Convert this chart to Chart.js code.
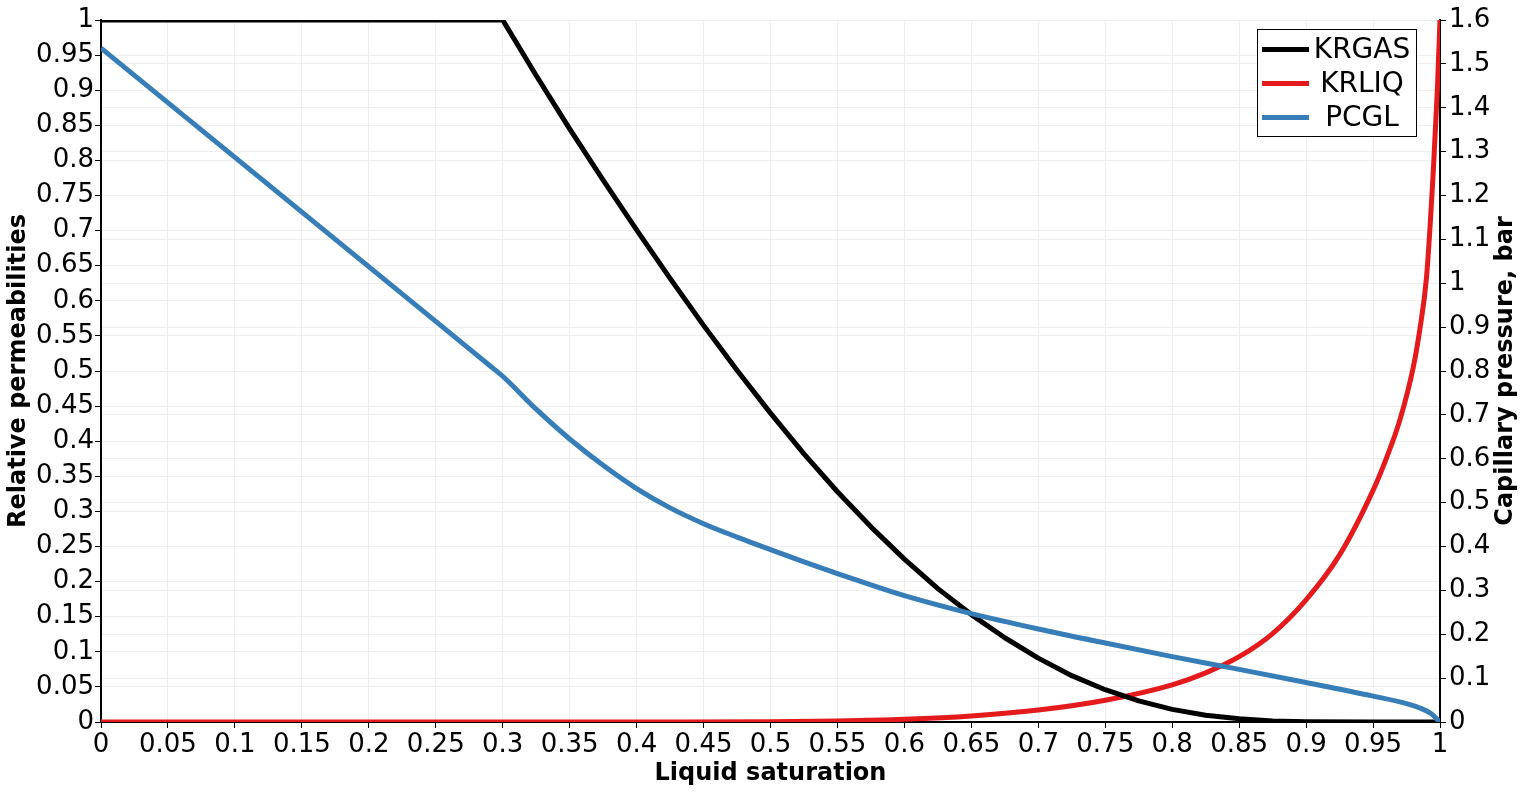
<!DOCTYPE html>
<html>
<head>
<meta charset="utf-8">
<script src="https://cdn.jsdelivr.net/npm/chart.js@4.4.1/dist/chart.umd.min.js"></script>
<style>
  html, body { margin: 0; padding: 0; background: #ffffff; }
  #wrap { width: 1526px; height: 796px; }
</style>
</head>
<body>
<div id="wrap"><canvas id="c" width="1526" height="796"></canvas></div>
<script>
// ---------------- data ----------------
const seriesNames = ['KRGAS', 'KRLIQ', 'PCGL'];
const seriesColors = ['#000000', '#e41a1c', '#377eb8'];

// KRGAS (left axis)
const krgasSat = [0, 0.1, 0.2, 0.3, 0.325, 0.35, 0.375, 0.4, 0.425, 0.45, 0.475, 0.5,
                  0.525, 0.55, 0.575, 0.6, 0.625, 0.65, 0.675, 0.7, 0.725, 0.75, 0.775, 0.8, 0.825,
                  0.85, 0.875, 0.9, 0.95, 1.0];
const krgasVal = [1, 1, 1, 1, 0.921, 0.845, 0.772, 0.701, 0.632, 0.565, 0.501, 0.440,
                  0.382, 0.328, 0.278, 0.232, 0.190, 0.153, 0.120, 0.091, 0.066, 0.046, 0.030, 0.018, 0.0095,
                  0.0045, 0.0015, 0.0003, 0, 0];

// KRLIQ (left axis)
const krliqSat = [0, 0.1, 0.2, 0.3, 0.4, 0.5, 0.55, 0.6, 0.65, 0.7, 0.75, 0.8, 0.825, 0.85,
                  0.875, 0.9, 0.925, 0.95, 0.96, 0.97, 0.98, 0.985, 0.99, 0.995, 0.998, 1.0];
const krliqVal = [0, 0, 0, 0, 0.0001, 0.0005, 0.0015, 0.0038, 0.0085, 0.017, 0.031, 0.053, 0.070, 0.093,
                  0.126, 0.174, 0.238, 0.330, 0.376, 0.430, 0.505, 0.560, 0.635, 0.785, 0.900, 1.0];

// PCGL (right axis, bar)
const pcglSat = [0, 0.25, 0.29, 0.3, 0.325, 0.35, 0.375, 0.4, 0.425, 0.45, 0.475, 0.5, 0.525, 0.55, 0.575, 0.6, 0.65, 0.7,
                 0.75, 0.8, 0.85, 0.9, 0.95, 0.975, 0.985, 0.993, 1.0];
const pcglVal = [1.536, 0.913, 0.813, 0.788, 0.713, 0.645, 0.585, 0.532, 0.488, 0.452, 0.4215, 0.393, 0.365, 0.338, 0.3125, 0.288, 0.247, 0.212,
                 0.180, 0.149, 0.120, 0.090, 0.059, 0.042, 0.032, 0.020, 0];

// ticks
const xTicks = [0, 0.05, 0.1, 0.15, 0.2, 0.25, 0.3, 0.35, 0.4, 0.45, 0.5, 0.55, 0.6, 0.65, 0.7, 0.75, 0.8, 0.85, 0.9, 0.95, 1];
const xTickLabels = ['0', '0.05', '0.1', '0.15', '0.2', '0.25', '0.3', '0.35', '0.4', '0.45', '0.5', '0.55', '0.6', '0.65', '0.7', '0.75', '0.8', '0.85', '0.9', '0.95', '1'];
const yTicks = xTicks.slice();
const yTickLabels = xTickLabels.slice();
const y2Ticks = [0, 0.1, 0.2, 0.3, 0.4, 0.5, 0.6, 0.7, 0.8, 0.9, 1.0, 1.1, 1.2, 1.3, 1.4, 1.5, 1.6];
const y2TickLabels = ['0', '0.1', '0.2', '0.3', '0.4', '0.5', '0.6', '0.7', '0.8', '0.9', '1', '1.1', '1.2', '1.3', '1.4', '1.5', '1.6'];

const xTitle = 'Liquid saturation';
const yTitle = 'Relative permeabilities';
const y2Title = 'Capillary pressure, bar';

// ---------------- chart ----------------
const FONT = "'DejaVu Sans', sans-serif";
const GRID = '#eeeeee';

function pts(xs, ys) { return xs.map((x, i) => ({ x: x, y: ys[i] })); }

const legendPlugin = {
  id: 'boxLegend',
  afterDraw(chart) {
    const ctx = chart.ctx;
    ctx.save();
    const bx = 1257.5, by = 29.5, bw = 159, bh = 107;
    ctx.fillStyle = '#ffffff';
    ctx.fillRect(bx, by, bw, bh);
    ctx.strokeStyle = '#000000';
    ctx.lineWidth = 1;
    ctx.strokeRect(bx, by, bw, bh);
    const rows = [49.5, 83.5, 117.5];
    chart.data.datasets.forEach((ds, i) => {
      ctx.strokeStyle = ds.borderColor;
      ctx.lineWidth = 5;
      ctx.beginPath();
      ctx.moveTo(1262, rows[i]);
      ctx.lineTo(1309, rows[i]);
      ctx.stroke();
      ctx.fillStyle = '#000000';
      ctx.font = '28px ' + FONT;
      ctx.textAlign = 'center';
      ctx.textBaseline = 'alphabetic';
      ctx.fillText(ds.label, 1362, rows[i] + 8);
    });
    // right axis title, reading bottom to top
    const area = chart.chartArea;
    ctx.translate(1506, (area.top + area.bottom) / 2);
    ctx.rotate(-Math.PI / 2);
    ctx.fillStyle = '#000000';
    ctx.font = 'bold 24px ' + FONT;
    ctx.textAlign = 'center';
    ctx.textBaseline = 'middle';
    ctx.fillText(y2Title, 0, 0);
    ctx.restore();
  }
};

const tickFont = { family: FONT, size: 26 };
const titleFont = { family: FONT, size: 24, weight: 'bold' };

new Chart(document.getElementById('c'), {
  type: 'scatter',
  data: {
    datasets: [
      { label: seriesNames[0], data: pts(krgasSat, krgasVal), borderColor: seriesColors[0], backgroundColor: seriesColors[0],
        showLine: true, borderWidth: 5, pointRadius: 0, yAxisID: 'y', clip: 0, order: 1, tension: 0 },
      { label: seriesNames[1], data: pts(krliqSat, krliqVal), borderColor: seriesColors[1], backgroundColor: seriesColors[1],
        showLine: true, borderWidth: 5, pointRadius: 0, yAxisID: 'y', clip: 0, order: 2, cubicInterpolationMode: 'monotone' },
      { label: seriesNames[2], data: pts(pcglSat, pcglVal), borderColor: seriesColors[2], backgroundColor: seriesColors[2],
        showLine: true, borderWidth: 5, pointRadius: 0, yAxisID: 'y2', clip: 0, order: 0, cubicInterpolationMode: 'monotone' }
    ]
  },
  options: {
    responsive: false,
    animation: false,
    devicePixelRatio: 1,
    layout: { padding: { top: 20, left: 0, right: 0, bottom: 0 } },
    plugins: { legend: { display: false }, tooltip: { enabled: false } },
    elements: { line: { borderJoinStyle: 'round', borderCapStyle: 'butt' } },
    scales: {
      x: {
        type: 'linear', position: 'bottom', min: 0, max: 1,
        afterBuildTicks: s => { s.ticks = xTicks.map(v => ({ value: v })); },
        afterFit: s => { s.height = 74; },
        ticks: { callback: (v, i) => xTickLabels[i], font: tickFont, color: '#000', autoSkip: false, maxRotation: 0, padding: 2 },
        grid: { color: GRID, lineWidth: 1, tickColor: '#000', tickLength: 6, tickWidth: 1 },
        border: { color: '#000', width: 2 },
        title: { display: true, text: xTitle, font: titleFont, color: '#000', padding: { top: 0, bottom: 8 } }
      },
      y: {
        type: 'linear', position: 'left', min: 0, max: 1,
        afterBuildTicks: s => { s.ticks = yTicks.map(v => ({ value: v })); },
        afterFit: s => { s.width = 101; },
        ticks: { callback: (v, i) => yTickLabels[i], font: tickFont, color: '#000', autoSkip: false, padding: 1 },
        grid: { color: GRID, lineWidth: 1, tickColor: '#000', tickLength: 6, tickWidth: 1 },
        border: { color: '#000', width: 2 },
        title: { display: true, text: yTitle, font: titleFont, color: '#000', padding: { top: 4, bottom: 0 } }
      },
      y2: {
        type: 'linear', position: 'right', min: 0, max: 1.6,
        afterBuildTicks: s => { s.ticks = y2Ticks.map(v => ({ value: v })); },
        afterFit: s => { s.width = 86; },
        ticks: { callback: (v, i) => y2TickLabels[i], font: tickFont, color: '#000', autoSkip: false, padding: 3 },
        grid: { color: GRID, lineWidth: 1, tickColor: '#000', tickLength: 6, tickWidth: 1, drawOnChartArea: true },
        border: { color: '#000', width: 2 },
        title: { display: false }
      }
    }
  },
  plugins: [legendPlugin]
});
</script>
</body>
</html>
